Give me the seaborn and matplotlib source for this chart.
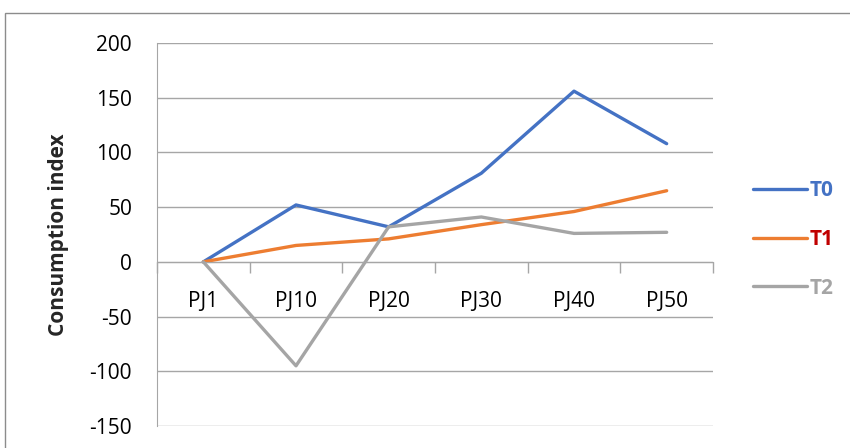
import matplotlib
matplotlib.use("Agg")
import matplotlib.pyplot as plt
import matplotlib.patches as mpatches
from matplotlib.ticker import FixedLocator
import seaborn as sns
import pandas as pd

categories = ["PJ1", "PJ10", "PJ20", "PJ30", "PJ40", "PJ50"]
t0 = [0, 52, 32, 81, 156, 108]
t1 = [0, 15, 21, 34, 46, 65]
t2 = [0, -95, 32, 41, 26, 27]
series_names = ["T0", "T1", "T2"]
line_colors = ["#4472C4", "#ED7D31", "#A5A5A5"]
text_colors = ["#4472C4", "#C00000", "#A5A5A5"]
yticks = [-150, -100, -50, 0, 50, 100, 150, 200]

df = pd.DataFrame({
    "cat": categories * 3,
    "value": t0 + t1 + t2,
    "series": [s for s in series_names for _ in categories],
})

sns.set_style("white")
plt.rcParams["font.family"] = ["Open Sans", "DejaVu Sans"]
plt.rcParams["axes.unicode_minus"] = False

fig = plt.figure(figsize=(8.5, 4.48), dpi=100)
ax = fig.add_axes([157/850, 1-426/448, (713-157)/850, (426-43)/448])

sns.lineplot(data=df, x="cat", y="value", hue="series", palette=line_colors,
             sort=False, linewidth=2.4, ax=ax, legend=True)

ax.set_xlim(-0.5, len(categories)-0.5)
ax.set_ylim(min(yticks), max(yticks))
ax.set_yticks(yticks)
ax.set_yticklabels([str(v) for v in yticks])
ax.yaxis.grid(True, color="#A6A6A6", linewidth=1)
ax.set_axisbelow(True)
for s in ["top", "right"]:
    ax.spines[s].set_visible(False)
ax.spines["left"].set_color("#A6A6A6")
ax.spines["bottom"].set_color("#A6A6A6")
ax.spines["bottom"].set_position(("data", 0))
ax.tick_params(axis="y", which="both", length=9, color="#A6A6A6", width=1,
               labelsize=15, pad=9, labelcolor="#000000")
ax.xaxis.set_minor_locator(FixedLocator([i - 0.5 for i in range(len(categories)+1)]))
ax.tick_params(axis="x", which="minor", length=8, color="#A6A6A6", width=1,
               direction="out", bottom=True)
ax.tick_params(axis="x", which="major", length=0, labelsize=15, pad=21, labelcolor="#000000")
ax.set_xlabel("")
ax.set_ylabel("Consumption index", fontsize=15, fontweight="bold")
ax.yaxis.set_label_coords(-0.158, 0.5)

handles, labels = ax.get_legend_handles_labels()
leg = ax.legend(handles, labels, loc="center left", bbox_to_anchor=(1.038, 0.487),
                frameon=False, handlelength=2.6, handletextpad=0.12,
                labelspacing=1.33, prop={"weight": "bold", "size": 15})
for txt, c in zip(leg.get_texts(), text_colors):
    txt.set_color(c)
for line in leg.get_lines():
    line.set_linewidth(2.4)

fig.add_artist(mpatches.Rectangle((5/850, -0.1), 1.0, 1 - 13/448 + 0.1,
                                  transform=fig.transFigure, fill=False,
                                  edgecolor="#8C8C8C", linewidth=1))

fig.savefig("out.png", dpi=100)
